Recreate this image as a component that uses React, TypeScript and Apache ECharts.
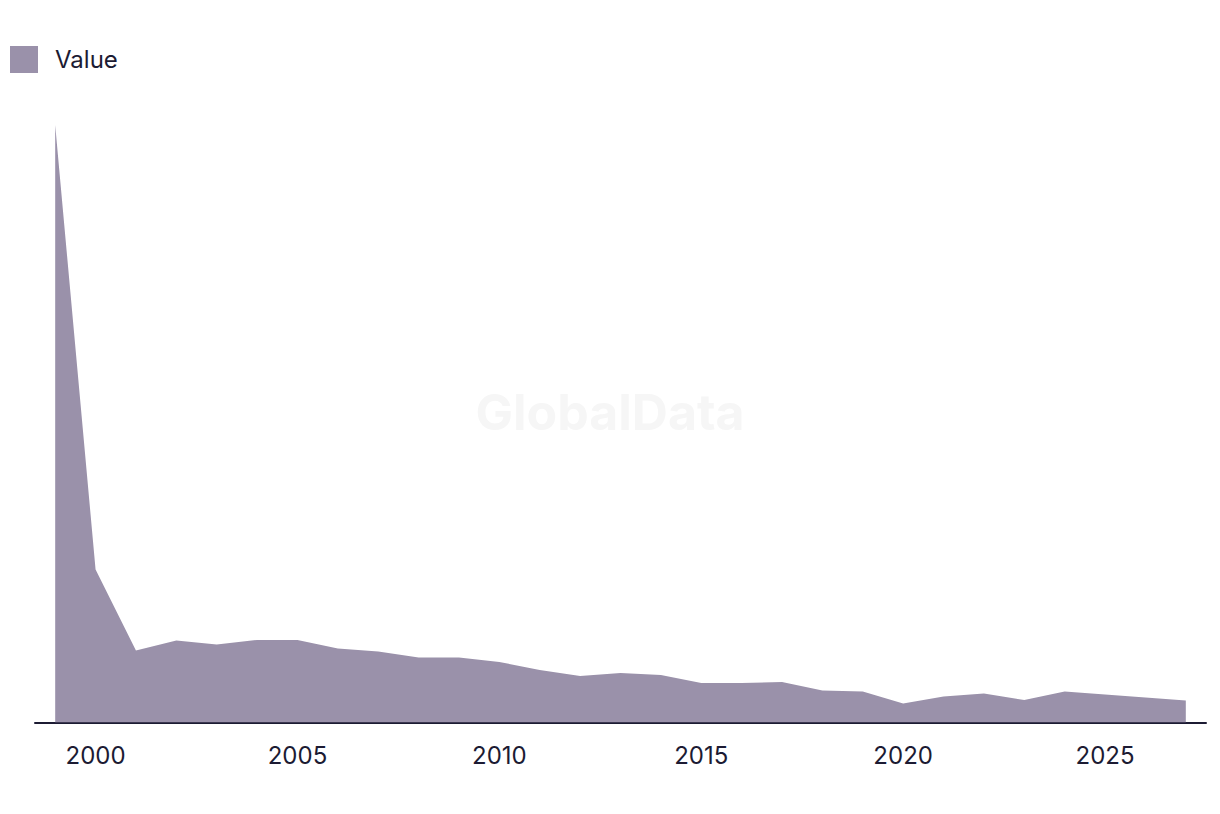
import React, { useEffect, useRef } from "react";
import * as echarts from "echarts";

const years: string[] = [
  "1999","2000","2001","2002","2003","2004","2005","2006","2007","2008",
  "2009","2010","2011","2012","2013","2014","2015","2016","2017","2018",
  "2019","2020","2021","2022","2023","2024","2025","2026","2027",
];
const values: number[] = [
  597.5, 153, 72, 82, 78, 82.5, 82.5, 74, 71, 65,
  65, 60.5, 52.5, 46.5, 49.5, 47.5, 39.5, 39.5, 40.5, 32,
  31, 19, 26, 29, 22.5, 31, 28, 25, 22,
];
const seriesName = "Value";

export default function App() {
  const ref = useRef<HTMLDivElement>(null);
  useEffect(() => {
    if (!ref.current) return;
    const chart = echarts.init(ref.current, null, { renderer: "svg" });
    const textColor = "#1c1b33";
    chart.setOption({
      animation: false,
      backgroundColor: "#ffffff",
      graphic: [
        {
          type: "text",
          left: "center",
          top: 379,
          style: {
            text: "GlobalData",
            fontSize: 50,
            fontWeight: "bold",
            fontFamily: "Inter, Roboto, sans-serif",
            fill: "#f6f6f6",
          },
          z: -1,
        },
      ],
      legend: {
        data: [seriesName],
        left: -3,
        top: 33,
        icon: "rect",
        itemWidth: 28,
        itemHeight: 27,
        itemGap: 10,
        textStyle: {
          color: textColor,
          fontSize: 24,
          fontFamily: "Inter, Roboto, sans-serif",
          padding: [0, 0, 2, 12],
        },
      },
      grid: { left: 27, right: 6, top: 114.5, bottom: 83.5, containLabel: false },
      xAxis: {
        type: "category",
        data: years,
        boundaryGap: true,
        axisLine: { show: true, lineStyle: { color: textColor, width: 2 } },
        axisTick: { show: false },
        axisLabel: {
          interval: (_i: number, v: string) => Number(v) % 5 === 0,
          color: textColor,
          fontSize: 24,
          fontFamily: "Inter, Roboto, sans-serif",
          margin: 21,
        },
        splitLine: { show: false },
      },
      yAxis: {
        type: "value",
        min: 0,
        max: 600,
        show: false,
        splitLine: { show: false },
      },
      series: [
        {
          name: seriesName,
          type: "line",
          data: values,
          symbol: "none",
          lineStyle: { width: 0 },
          itemStyle: { color: "#9a91aa" },
          areaStyle: { color: "#9a91aa", opacity: 1 },
        },
      ],
    });
    return () => chart.dispose();
  }, []);
  return <div ref={ref} style={{ width: 1204, height: 798 }} />;
}
